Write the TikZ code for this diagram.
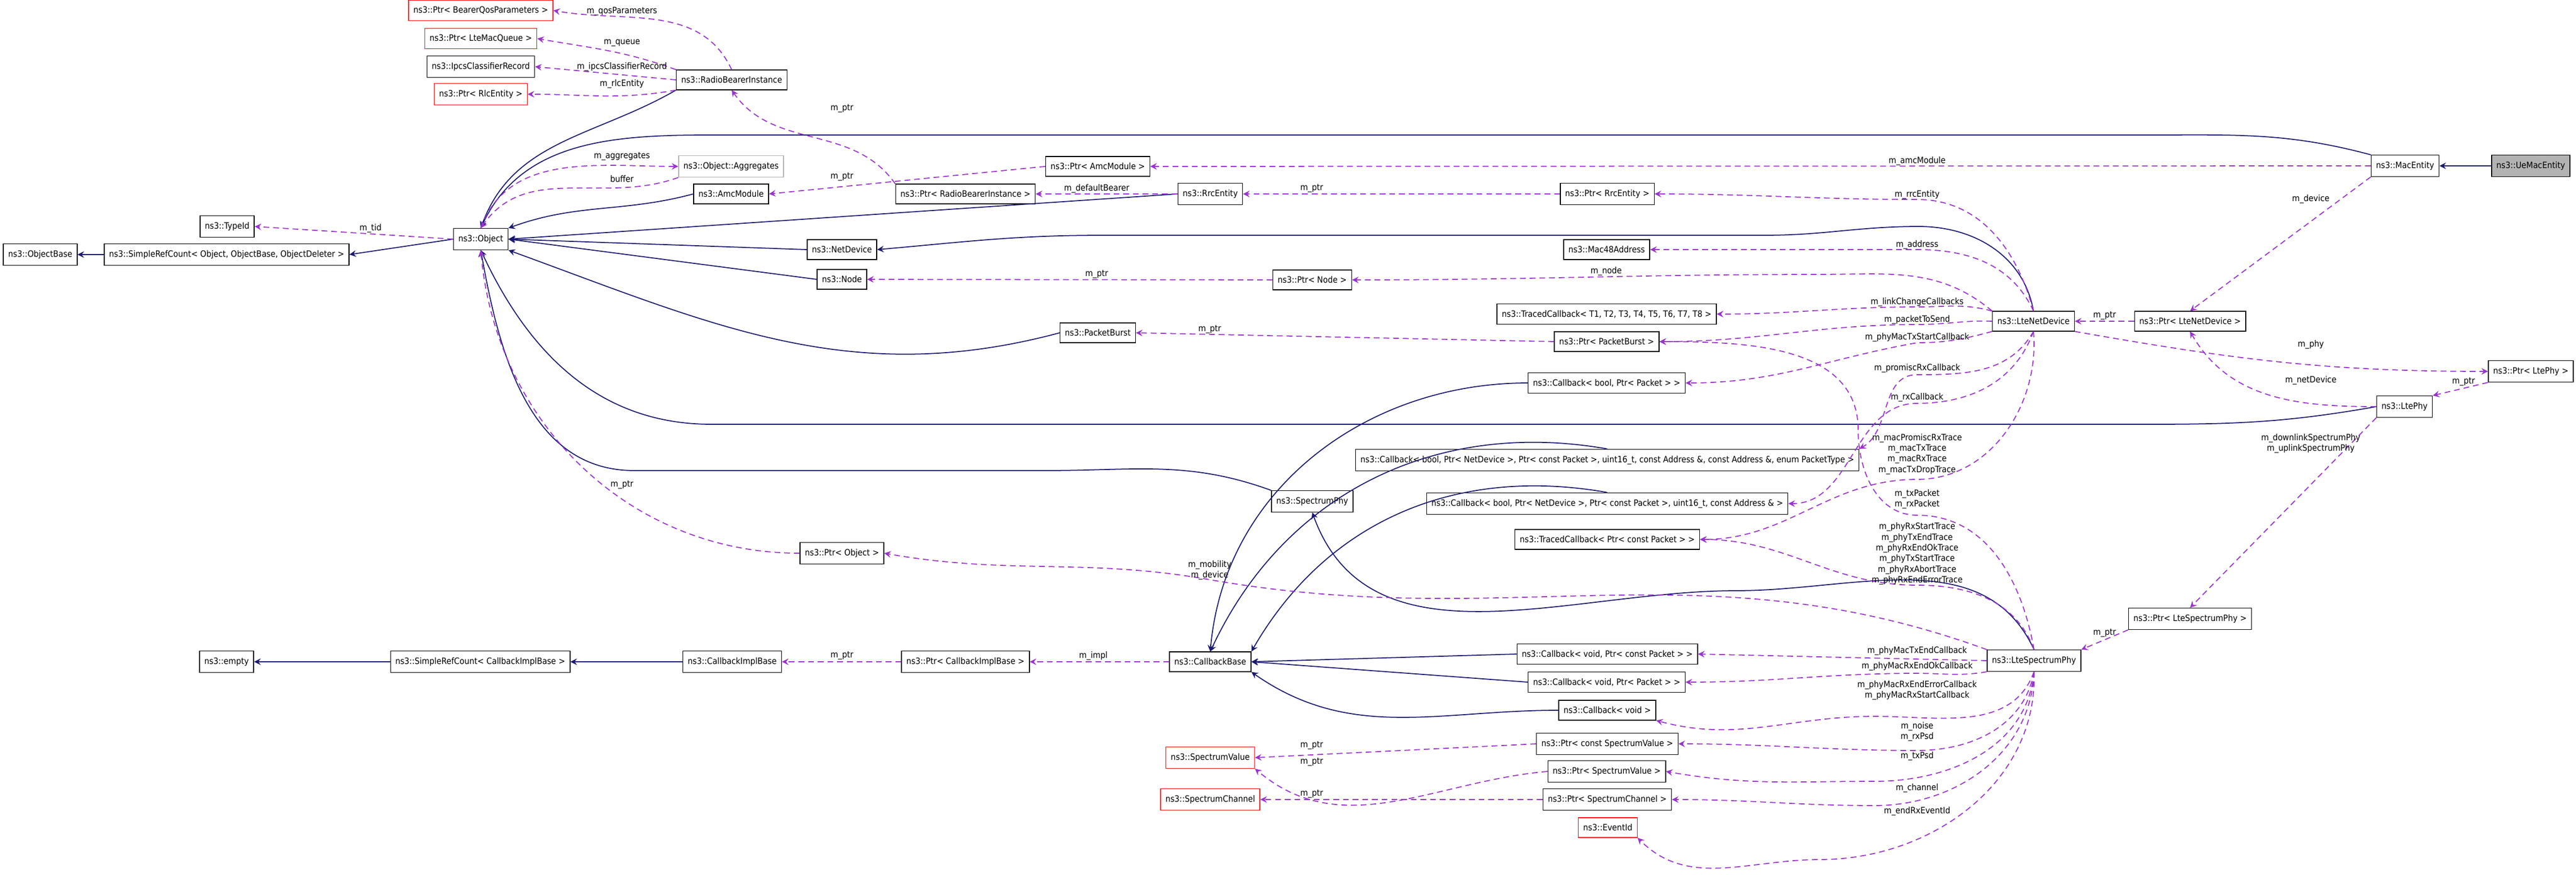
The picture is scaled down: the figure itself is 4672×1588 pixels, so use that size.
\documentclass[tikz,border=0pt]{standalone}
\usepackage{fontspec}
\setmainfont{DejaVu Sans Condensed}
\usepackage{tikz}
\usetikzlibrary{arrows}
\definecolor{navy}{RGB}{25,25,112}
\definecolor{usecol}{RGB}{154,50,205}
\tikzstyle{cls} = [rectangle, draw=black, fill=white, font=\fontsize{4.5}{5.5}\selectfont, inner xsep=2.5pt, minimum height=0.28cm]
\tikzstyle{ext} = [cls, draw=red]
\tikzstyle{hid} = [cls, draw=black!30]
\tikzstyle{self} = [cls, fill=black!30]
\tikzstyle{lbl} = [font=\fontsize{4.5}{5.5}\selectfont, align=center, inner sep=1pt]
\tikzstyle{inh} = [draw=navy, line width=0.5pt, ->, >=stealth]
\tikzstyle{use} = [draw=usecol, line width=0.5pt, dashed, dash pattern=on 3pt off 2pt, ->, >=stealth]

\begin{document}
\begin{tikzpicture}[x=0.01cm, y=-0.01cm]
\useasboundingbox (0,0) rectangle (4672,1588);

% Object side
\node (qos) [ext] at (872,19) {ns3::Ptr< BearerQosParameters >};
\node (macq) [ext] at (872,70) {ns3::Ptr< LteMacQueue >};
\node (ipcs) [cls] at (872,121) {ns3::IpcsClassifierRecord};
\node (prlc) [ext] at (872,171) {ns3::Ptr< RlcEntity >};
\node (rbi) [cls] at (1327,145) {ns3::RadioBearerInstance};
\node (agg) [hid] at (1326,302) {ns3::Object::Aggregates};
\node (amc) [cls] at (1326,352) {ns3::AmcModule};
\node (typeid) [cls] at (412,411) {ns3::TypeId};
\node (obj) [cls] at (872,434) {ns3::Object};
\node (objbase) [cls] at (73,462) {ns3::ObjectBase};
\node (srcobj) [cls] at (411,462) {ns3::SimpleRefCount< Object, ObjectBase, ObjectDeleter >};
\node (netdev) [cls] at (1527,453) {ns3::NetDevice};
\node (node) [cls] at (1527,507) {ns3::Node};
\node (pamc) [cls] at (1991,302) {ns3::Ptr< AmcModule >};
\node (prbi) [cls] at (1751,352) {ns3::Ptr< RadioBearerInstance >};
\node (rrc) [cls] at (2195,352) {ns3::RrcEntity};
\node (prrc) [cls] at (2915,352) {ns3::Ptr< RrcEntity >};
\node (mac48) [cls] at (2914,453) {ns3::Mac48Address};
\node (pnode) [cls] at (2380,508) {ns3::Ptr< Node >};
\node (tcb8) [cls] at (2914,570) {ns3::TracedCallback< T1, T2, T3, T4, T5, T6, T7, T8 >};
\node (pb) [cls] at (1991,604) {ns3::PacketBurst};
\node (ppb) [cls] at (2914,620) {ns3::Ptr< PacketBurst >};
\node (cbbp) [cls] at (2914,695) {ns3::Callback< bool, Ptr< Packet > >};
\node (cbenum) [cls] at (2915,835) {ns3::Callback< bool, Ptr< NetDevice >, Ptr< const Packet >, uint16\_t, const Address \&, const Address \&, enum PacketType >};
\node (specphy) [cls] at (2380,910) {ns3::SpectrumPhy};
\node (cbaddr) [cls] at (2915,914) {ns3::Callback< bool, Ptr< NetDevice >, Ptr< const Packet >, uint16\_t, const Address \& >};
\node (tcbcp) [cls] at (2915,979) {ns3::TracedCallback< Ptr< const Packet > >};
\node (pobj) [cls] at (1527,1004) {ns3::Ptr< Object >};

% MAC / PHY side
\node (macent) [cls] at (4362,301) {ns3::MacEntity};
\node (uemac) [self] at (4590,301) {ns3::UeMacEntity};
\node (ltenet) [cls] at (3688,583) {ns3::LteNetDevice};
\node (pltenet) [cls] at (3972,583) {ns3::Ptr< LteNetDevice >};
\node (plphy) [cls] at (4590,674) {ns3::Ptr< LtePhy >};
\node (ltephy) [cls] at (4361,738) {ns3::LtePhy};
\node (plspec) [cls] at (3972,1123) {ns3::Ptr< LteSpectrumPhy >};
\node (ltespec) [cls] at (3689,1199) {ns3::LteSpectrumPhy};

% Callback side
\node (cbbase) [cls] at (2195,1201) {ns3::CallbackBase};
\node (cbvoidcp) [cls] at (2915,1187) {ns3::Callback< void, Ptr< const Packet > >};
\node (cbvoidp) [cls] at (2914,1238) {ns3::Callback< void, Ptr< Packet > >};
\node (cbvoid) [cls] at (2915,1289) {ns3::Callback< void >};
\node (pcsv) [cls] at (2915,1350) {ns3::Ptr< const SpectrumValue >};
\node (specval) [ext] at (2195,1375) {ns3::SpectrumValue};
\node (psv) [cls] at (2914,1400) {ns3::Ptr< SpectrumValue >};
\node (specchan) [ext] at (2195,1451) {ns3::SpectrumChannel};
\node (pschan) [cls] at (2915,1451) {ns3::Ptr< SpectrumChannel >};
\node (eventid) [ext] at (2916,1502) {ns3::EventId};
\node (empty) [cls] at (411,1201) {ns3::empty};
\node (srcimpl) [cls] at (871,1201) {ns3::SimpleRefCount< CallbackImplBase >};
\node (cbimpl) [cls] at (1328,1201) {ns3::CallbackImplBase};
\node (pcbimpl) [cls] at (1751,1201) {ns3::Ptr< CallbackImplBase >};

% Inheritance
\draw [inh] (uemac) -- (macent);
\draw [inh] (macent.north west) to[out=165,in=0] (3900,245) -- (1290,245) to[out=180,in=65] (obj.north);
\draw [inh] (rbi.south west) to[out=210,in=70] (obj.north);
\draw [inh] (amc.west) to[out=195,in=20] (obj.north east);
\draw [inh] (rrc.west) -- (obj.east);
\draw [inh] (netdev.west) -- (obj.east);
\draw [inh] (node.west) -- (obj.east);
\draw [inh] (pb.west) to[out=195,in=-20] (obj.south east);
\draw [inh] (ltephy.west) to[out=190,in=0] (3900,770) -- (1290,770) to[out=180,in=-65] (obj.south);
\draw [inh] (specphy.north west) to[out=160,in=0] (1900,854) -- (1150,854) to[out=180,in=-80] (obj.south);
\draw [inh] (ltenet.north) to[out=100,in=0] (3480,411) to[out=180,in=0] (3200,427) -- (2000,427) to[out=180,in=5] (netdev.east);
\draw [inh] (ltespec.north) to[out=115,in=0] (3150,1072) to[out=180,in=-70] (specphy.south);
\draw [inh] (obj.west) -- (srcobj.east);
\draw [inh] (srcobj) -- (objbase);
\draw [inh] (cbimpl) -- (srcimpl);
\draw [inh] (srcimpl) -- (empty);
\draw [inh] (cbvoidcp.west) -- (cbbase.east);
\draw [inh] (cbvoidp.west) -- (cbbase.east);
\draw [inh] (cbvoid.west) to[out=180,in=-35] (cbbase.south east);
\draw [inh] (cbbp.west) to[out=180,in=85] (cbbase.north);
\draw [inh] (cbenum.north) to[out=170,in=65] (cbbase.north);
\draw [inh] (cbaddr.north) to[out=170,in=60] (cbbase.north east);

% Usage
\draw [use] (rbi.north) to[out=115,in=-10] (qos.east);
\node [lbl] at (1128,21) {m\_qosParameters};
\draw [use] (rbi.north west) to[out=160,in=-10] (macq.east);
\node [lbl] at (1128,78) {m\_queue};
\draw [use] (rbi.west) -- (ipcs.east);
\node [lbl] at (1128,121) {m\_ipcsClassifierRecord};
\draw [use] (rbi.south west) to[out=190,in=0] (prlc.east);
\node [lbl] at (1128,152) {m\_rlcEntity};
\draw [use] (prbi.north west) to[out=125,in=-55] (rbi.south);
\node [lbl] at (1527,197) {m\_ptr};
\draw [use] (obj.north) to[out=70,in=180] (agg.west);
\node [lbl] at (1128,284) {m\_aggregates};
\draw [use] (agg.south west) to[out=200,in=55] (obj.north);
\node [lbl] at (1128,325) {buffer};
\draw [use] (pamc.west) -- (amc.east);
\node [lbl] at (1527,321) {m\_ptr};
\draw [use] (obj.west) -- (typeid.east);
\node [lbl] at (672,414) {m\_tid};
\draw [use] (pobj.west) to[out=180,in=-85] (obj.south);
\node [lbl] at (1128,880) {m\_ptr};
\draw [use] (macent.west) -- (pamc.east);
\node [lbl] at (3477,292) {m\_amcModule};
\draw [use] (rrc.west) -- (prbi.east);
\node [lbl] at (1989,342) {m\_defaultBearer};
\draw [use] (prrc.west) -- (rrc.east);
\node [lbl] at (2379,342) {m\_ptr};
\draw [use] (pnode.west) -- (node.east);
\node [lbl] at (1989,498) {m\_ptr};
\draw [use] (ppb.west) -- (pb.east);
\node [lbl] at (2194,598) {m\_ptr};

% LteNetDevice members
\draw [use] (ltenet.north) to[out=105,in=0] (3477,362) to[out=180,in=0] (prrc.east);
\node [lbl] at (3477,353) {m\_rrcEntity};
\draw [use] (ltenet.north) to[out=115,in=0] (3477,453) to[out=180,in=0] (mac48.east);
\node [lbl] at (3477,444) {m\_address};
\draw [use] (ltenet.north west) to[out=140,in=0] (3300,498) to[out=180,in=0] (pnode.east);
\node [lbl] at (2913,492) {m\_node};
\draw [use] (ltenet.north west) to[out=165,in=0] (3477,557) to[out=180,in=0] (tcb8.east);
\node [lbl] at (3477,548) {m\_linkChangeCallbacks};
\draw [use] (ltenet.west) to[out=178,in=0] (3477,589) to[out=180,in=0] (ppb.east);
\node [lbl] at (3477,580) {m\_packetToSend};
\draw [use] (ltenet.south west) to[out=195,in=0] (3477,622) to[out=190,in=0] (cbbp.east);
\node [lbl] at (3477,612) {m\_phyMacTxStartCallback};
\draw [use] (ltenet.south) to[out=240,in=0] (3477,680) to[out=180,in=30] (cbenum.north east);
\node [lbl] at (3477,668) {m\_promiscRxCallback};
\draw [use] (ltenet.south) to[out=250,in=0] (3477,732) to[out=180,in=0] (cbaddr.east);
\node [lbl] at (3477,721) {m\_rxCallback};
\draw [use] (ltenet.south) to[out=275,in=0] (3477,870) to[out=180,in=0] (tcbcp.east);
\node [lbl] at (3477,824) {m\_macPromiscRxTrace\\m\_macTxTrace\\m\_macRxTrace\\m\_macTxDropTrace};

% MacEntity / LtePhy members
\draw [use] (macent.south west) -- (pltenet.north);
\node [lbl] at (4191,361) {m\_device};
\draw [use] (pltenet.west) -- (ltenet.east);
\node [lbl] at (3817,573) {m\_ptr};
\draw [use] (ltenet.south east) to[out=-10,in=180] (plphy.west);
\node [lbl] at (4191,625) {m\_phy};
\draw [use] (plphy.south west) -- (ltephy.north east);
\node [lbl] at (4468,693) {m\_ptr};
\draw [use] (ltephy.west) to[out=180,in=-60] (pltenet.south);
\node [lbl] at (4191,690) {m\_netDevice};
\draw [use] (ltephy.south west) -- (plspec.north);
\node [lbl] at (4191,805) {m\_downlinkSpectrumPhy\\m\_uplinkSpectrumPhy};
\draw [use] (plspec.south west) -- (ltespec.north east);
\node [lbl] at (3817,1149) {m\_ptr};

% LteSpectrumPhy members
\draw [use] (ltespec.north) to[out=100,in=0] (3477,935) to[out=180,in=-90] (3370,780) to[out=90,in=0] (ppb.east);
\node [lbl] at (3477,906) {m\_txPacket\\m\_rxPacket};
\draw [use] (ltespec.north) to[out=110,in=0] (3477,1062) to[out=180,in=0] (tcbcp.east);
\node [lbl] at (3477,1005) {m\_phyRxStartTrace\\m\_phyTxEndTrace\\m\_phyRxEndOkTrace\\m\_phyTxStartTrace\\m\_phyRxAbortTrace\\m\_phyRxEndErrorTrace};
\draw [use] (ltespec.north west) to[out=160,in=-10] (2194,1052) to[out=170,in=-10] (pobj.east);
\node [lbl] at (2194,1035) {m\_mobility\\m\_device};
\draw [use] (ltespec.west) -- (cbvoidcp.east);
\node [lbl] at (3477,1181) {m\_phyMacTxEndCallback};
\draw [use] (ltespec.south west) to[out=190,in=0] (3477,1222) to[out=180,in=0] (cbvoidp.east);
\node [lbl] at (3477,1209) {m\_phyMacRxEndOkCallback};
\draw [use] (ltespec.south) to[out=250,in=0] (3400,1300) to[out=180,in=-15] (cbvoid.south east);
\node [lbl] at (3477,1253) {m\_phyMacRxEndErrorCallback\\m\_phyMacRxStartCallback};
\draw [use] (ltespec.south) to[out=260,in=0] (3477,1362) to[out=180,in=0] (pcsv.east);
\node [lbl] at (3477,1328) {m\_noise\\m\_rxPsd};
\draw [use] (ltespec.south) to[out=265,in=0] (3400,1418) to[out=180,in=-10] (psv.east);
\node [lbl] at (3477,1372) {m\_txPsd};
\draw [use] (ltespec.south) to[out=268,in=0] (3400,1462) to[out=180,in=0] (pschan.east);
\node [lbl] at (3477,1430) {m\_channel};
\draw [use] (ltespec.south) to[out=272,in=0] (3300,1560) to[out=180,in=-45] (eventid.south east);
\node [lbl] at (3477,1472) {m\_endRxEventId};

% Pointers to spectrum / callback impl
\draw [use] (pcsv.west) -- (specval.east);
\node [lbl] at (2379,1353) {m\_ptr};
\draw [use] (psv.west) to[out=185,in=-40] (specval.south east);
\node [lbl] at (2379,1383) {m\_ptr};
\draw [use] (pschan.west) -- (specchan.east);
\node [lbl] at (2379,1441) {m\_ptr};
\draw [use] (pcbimpl.west) -- (cbimpl.east);
\node [lbl] at (1527,1190) {m\_ptr};
\draw [use] (cbbase.west) -- (pcbimpl.east);
\node [lbl] at (1983,1190) {m\_impl};

\end{tikzpicture}
\end{document}
